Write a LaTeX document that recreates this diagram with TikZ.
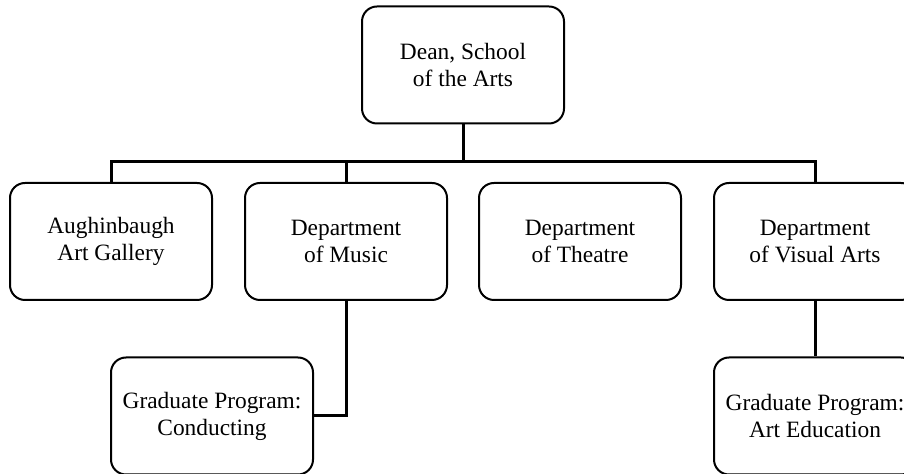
\documentclass[tikz,border=0pt]{standalone}
\usepackage{fontspec}
\setmainfont{Liberation Serif}
\tikzset{
  unit/.style={draw, line width=1pt, rounded corners=7.5pt, minimum width=101pt,
    minimum height=58.5pt, align=center, inner sep=0pt,
    font=\fontsize{11.7}{13.5}\selectfont},
  link/.style={line width=1.5pt}
}
\begin{document}
\begin{tikzpicture}[x=0.5pt,y=-0.5pt]
\useasboundingbox (0,0) rectangle (904,474);
% top of the chart
\node[unit] (dean) at (463,65) {Dean, School\\of the Arts};
% departments
\node[unit] (gallery) at (111,241.5) {Aughinbaugh\\Art Gallery};
\node[unit] (music) at (346,241.5) {Department\\of Music};
\node[unit] (theatre) at (580,241.5) {Department\\of Theatre};
\node[unit] (visual) at (815,241.5) {Department\\of Visual Arts};
% graduate programs
\node[unit] (conducting) at (212,416) {Graduate Program:\\Conducting};
\node[unit] (arted) at (815,416) {Graduate Program:\\Art Education};
% connectors
\coordinate (bus) at (463,162);
\draw[link] (dean.south) -- (bus);
\draw[link] (gallery.north) |- (bus) -| (visual.north);
\draw[link] (music.north) -- (music.north |- bus);
\draw[link] (music.south) |- (conducting.east);
\draw[link] (visual.south) -- (arted.north);
\end{tikzpicture}
\end{document}
